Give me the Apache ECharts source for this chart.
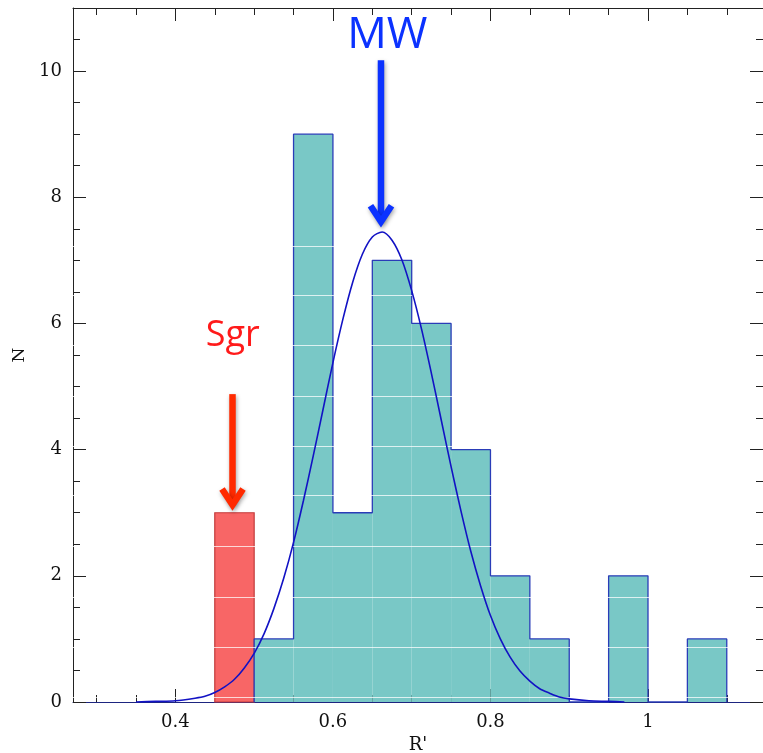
<!DOCTYPE html>
<html>
<head>
<meta charset="utf-8">
<script src="https://cdn.jsdelivr.net/npm/echarts@6/dist/echarts.min.js"></script>
<style>
html,body{margin:0;padding:0;background:#fff;}
#chart{width:763px;height:753px;}
</style>
</head>
<body>
<div id="chart"></div>
<script>
// ---------- data ----------
const binWidth = 0.05;
const tealBinStarts = [0.50, 0.55, 0.60, 0.65, 0.70, 0.75, 0.80, 0.85, 0.90, 0.95, 1.00, 1.05];
const tealCounts    = [1,    9,    3,    7,    6,    4,    2,    1,    0,    2,    0,    1];
const sgrBinStarts  = [0.45];
const sgrCounts     = [3];

// fitted MW gaussian curve
const curveX = [0.350, 0.375, 0.400, 0.425, 0.4375, 0.450, 0.4625, 0.475, 0.4875, 0.500, 0.5125, 0.525, 0.5375, 0.550, 0.5625, 0.575, 0.5875, 0.600, 0.6125, 0.625, 0.6375, 0.650, 0.6625, 0.675, 0.6875, 0.700, 0.7125, 0.725, 0.7375, 0.750, 0.7625, 0.775, 0.7875, 0.800, 0.8125, 0.825, 0.8375, 0.850, 0.8625, 0.875, 0.8875, 0.900, 0.925, 0.950, 0.970];
const curveY = [0.00,  0.01,  0.02,  0.06,  0.09,   0.15,  0.24,   0.36,  0.54,   0.77,  1.08,   1.48,  1.96,   2.53,  3.19,   3.90,  4.64,   5.38,  6.06,   6.65,  7.10,   7.37,  7.45,   7.32,  7.01,   6.52,  5.91,   5.21,  4.47,   3.73,  3.03,   2.39,  1.84,   1.37,  1.00,   0.71,  0.49,   0.33,  0.21,   0.14,  0.08,   0.05,  0.02,  0.01,  0.00];

// axis ticks / labels
const xLabelTicks = [0.4, 0.6, 0.8, 1.0];
const xMinorTicks = [0.30, 0.35, 0.40, 0.45, 0.50, 0.55, 0.60, 0.65, 0.70, 0.75, 0.80, 0.85, 0.90, 0.95, 1.00, 1.05, 1.10];
const yLabelTicks = [0, 2, 4, 6, 8, 10];
const yMinorTicks = [0.5, 1, 1.5, 2, 2.5, 3, 3.5, 4, 4.5, 5, 5.5, 6, 6.5, 7, 7.5, 8, 8.5, 9, 9.5, 10, 10.5];

// faint white scan lines seen across the filled bars
const scanLineY = [0.08, 0.87, 1.66, 2.47, 3.27, 4.06, 4.85, 5.66, 6.45, 7.23];

// annotations (data coordinates)
const mwArrow  = {x: 0.661, top: 10.17, tip: 7.55};
const sgrArrow = {x: 0.4725, top: 4.88, tip: 3.06};
const mwLabel  = {text: 'MW',  x: 0.669, y: 10.56};
const sgrLabel = {text: 'Sgr', x: 0.4727, y: 5.80};

// ---------- chart ----------
const X_MIN = 0.27, X_MAX = 1.146, Y_MIN = 0, Y_MAX = 11;
const serif = '"DejaVu Serif", "Liberation Serif", serif';

function xAxisDef(pos, ticks, len, withLabel, withLine) {
  return {
    type: 'value', position: pos, min: X_MIN, max: X_MAX,
    axisLine: {show: withLine, onZero: false, lineStyle: {color: pos === 'bottom' ? '#1d2580' : '#222', width: 1}},
    axisTick: {show: true, inside: true, length: len, customValues: ticks, lineStyle: {color: '#222', width: 1}},
    axisLabel: withLabel ? {show: true, customValues: ticks, margin: 11, color: '#111', fontFamily: serif, fontSize: 18,
      formatter: v => (Math.abs(v - 1) < 1e-9 ? '1' : v.toFixed(1))} : {show: false},
    splitLine: {show: false},
    name: withLabel ? "R'" : '',
    nameLocation: 'middle', nameGap: 28,
    nameTextStyle: {fontFamily: serif, fontSize: 18, color: '#111'}
  };
}
function yAxisDef(pos, ticks, len, withLabel, withLine) {
  return {
    type: 'value', position: pos, min: Y_MIN, max: Y_MAX,
    axisLine: {show: withLine, onZero: false, lineStyle: {color: '#222', width: 1}},
    axisTick: {show: true, inside: true, length: len, customValues: ticks, lineStyle: {color: '#222', width: 1}},
    axisLabel: withLabel ? {show: true, customValues: ticks, margin: 11, color: '#111', fontFamily: serif, fontSize: 18} : {show: false},
    splitLine: {show: false},
    name: withLabel ? 'N' : '',
    nameLocation: 'middle', nameGap: 43, nameRotate: 90,
    nameTextStyle: {fontFamily: serif, fontSize: 17, color: '#111'}
  };
}

function histData(starts, counts) {
  const out = [];
  starts.forEach((s, i) => { if (counts[i] > 0) out.push([s, s + binWidth, counts[i]]); });
  return out;
}
function stepOutline(starts, counts) {
  const pts = [[starts[0], 0]];
  starts.forEach((s, i) => { pts.push([s, counts[i]]); pts.push([s + binWidth, counts[i]]); });
  pts.push([starts[starts.length - 1] + binWidth, 0]);
  return pts;
}
function barRenderer(fill, stroke) {
  return function (params, api) {
    const p0 = api.coord([api.value(0), api.value(2)]);
    const p1 = api.coord([api.value(1), 0]);
    return {
      type: 'rect',
      shape: {x: p0[0], y: p0[1], width: p1[0] - p0[0], height: p1[1] - p0[1]},
      style: stroke ? {fill: fill, stroke: stroke, lineWidth: 1.2} : {fill: fill}
    };
  };
}

const chart = echarts.init(document.getElementById('chart'), null, {renderer: 'canvas'});
chart.setOption({
  animation: false,
  backgroundColor: '#ffffff',
  grid: {left: 73, right: 0, top: 8, bottom: 51, containLabel: false, outerBoundsMode: 'none'},
  xAxis: [
    xAxisDef('bottom', xLabelTicks, 13, true, true),
    xAxisDef('bottom', xMinorTicks, 7, false, false),
    xAxisDef('top', xLabelTicks, 13, false, true),
    xAxisDef('top', xMinorTicks, 7, false, false)
  ],
  yAxis: [
    yAxisDef('left', yLabelTicks, 13, true, true),
    yAxisDef('left', yMinorTicks, 7, false, false),
    yAxisDef('right', yLabelTicks, 13, false, true),
    yAxisDef('right', yMinorTicks, 7, false, false)
  ],
  series: [
    {
      name: 'Sgr', type: 'custom', xAxisIndex: 0, yAxisIndex: 0, z: 1,
      renderItem: barRenderer('#f86666', '#c23b3b'),
      encode: {x: [0, 1], y: 2},
      data: histData(sgrBinStarts, sgrCounts)
    },
    {
      name: 'MW', type: 'custom', xAxisIndex: 0, yAxisIndex: 0, z: 2,
      renderItem: barRenderer('#79c8c6', null),
      encode: {x: [0, 1], y: 2},
      data: histData(tealBinStarts, tealCounts),
      markLine: {
        silent: true, symbol: 'none', label: {show: false},
        lineStyle: {color: '#ffffff', width: 1, type: 'solid', opacity: 0.75},
        data: scanLineY.map(v => ({yAxis: v}))
      }
    },
    {
      name: 'MW outline', type: 'line', xAxisIndex: 0, yAxisIndex: 0, z: 3,
      showSymbol: false, smooth: false,
      lineStyle: {color: '#2a3cb8', width: 1.3},
      data: stepOutline(tealBinStarts, tealCounts)
    },
    {
      name: 'fit', type: 'line', xAxisIndex: 0, yAxisIndex: 0, z: 5,
      smooth: 0.3, showSymbol: false,
      lineStyle: {color: '#1212c4', width: 1.6},
      data: curveX.map((x, i) => [x, curveY[i]])
    }
  ]
});

function arrowGraphics(a, color) {
  const pTop = chart.convertToPixel({xAxisIndex: 0, yAxisIndex: 0}, [a.x, a.top]);
  const pTip = chart.convertToPixel({xAxisIndex: 0, yAxisIndex: 0}, [a.x, a.tip]);
  const sh = {shadowBlur: 4, shadowColor: 'rgba(0,0,0,0.35)', shadowOffsetX: 1, shadowOffsetY: 2};
  return [
    {type: 'line', z: 100, shape: {x1: pTop[0], y1: pTop[1], x2: pTip[0], y2: pTip[1] - 5},
      style: Object.assign({stroke: color, lineWidth: 6.5, lineCap: 'butt'}, sh)},
    {type: 'polyline', z: 101, shape: {points: [[pTip[0] - 10.5, pTip[1] - 20], [pTip[0], pTip[1] - 4], [pTip[0] + 10.5, pTip[1] - 20]]},
      style: Object.assign({stroke: color, fill: null, lineWidth: 6.5, lineJoin: 'miter', lineCap: 'butt'}, sh)}
  ];
}
function labelGraphic(l, color, size) {
  const p = chart.convertToPixel({xAxisIndex: 0, yAxisIndex: 0}, [l.x, l.y]);
  return {type: 'text', z: 102, x: p[0], y: p[1],
    style: {text: l.text, fill: color, font: size + 'px "Open Sans", "Noto Sans", sans-serif', align: 'center', verticalAlign: 'middle'}};
}

chart.setOption({
  graphic: [].concat(
    arrowGraphics(mwArrow, '#0b32ff'),
    arrowGraphics(sgrArrow, '#ff2a00'),
    [labelGraphic(mwLabel, '#0b32ff', 44), labelGraphic(sgrLabel, '#ff1a1a', 36)]
  )
});
</script>
</body>
</html>
